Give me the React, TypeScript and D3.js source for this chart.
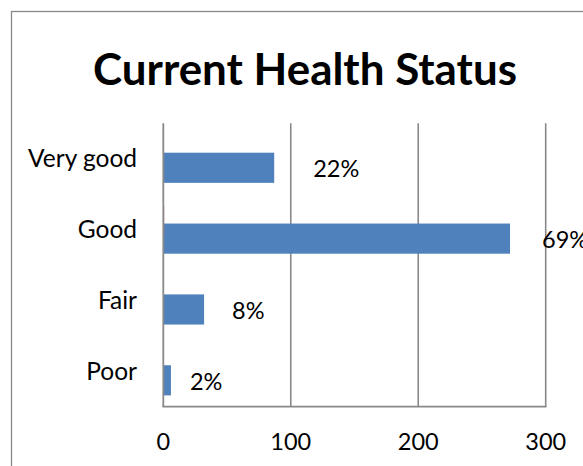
import React from "react";
import * as d3 from "d3";

// ---- data ----
const categories: string[] = ["Very good", "Good", "Fair", "Poor"];
const counts: number[] = [87, 272, 32, 6];
const percentLabels: string[] = ["22%", "69%", "8%", "2%"];
const secondSeries: number[] = [0, 0.8, 0, 0];
const xTicks: number[] = [0, 100, 200, 300];
const title = "Current Health Status";

const W = 583;
const H = 466;
const FONT = "Lato, 'Open Sans', sans-serif";

export default function App() {
  const plot = { left: 163.3, right: 545.7, top: 123.3, bottom: 406.7 };
  const x = d3.scaleLinear().domain([0, 300]).range([plot.left, plot.right]);
  const y = d3
    .scaleBand<string>()
    .domain(categories)
    .range([plot.top, plot.bottom])
    .paddingInner(0)
    .paddingOuter(0);

  // Excel-like clustered layout: gap width 75%, overlap 40%
  const unit = y.bandwidth() / 2.35;
  const barH = unit;
  const redOff = 0.375 * unit;
  const blueOff = 0.975 * unit;

  // per-label horizontal gap after the bar end (layout only)
  const labelGap = [39, 32, 28, 19];

  const gray = "#898989";

  return (
    <svg
      width={W}
      height={H}
      style={{ position: "absolute", left: 0, top: 0, display: "block", background: "#fff" }}
      fontFamily={FONT}
    >
      <rect x={0} y={0} width={W} height={H} fill="#fff" />
      <rect x={11.5} y={11.5} width={W + 50} height={H + 50} fill="none" stroke={gray} strokeWidth={1.3} />

      <text
        x={305}
        y={85}
        textAnchor="middle"
        fontSize={44}
        fontWeight={700}
        fill="#000"
        textLength={424}
        lengthAdjust="spacingAndGlyphs"
      >
        {title}
      </text>

      {/* gridlines */}
      {xTicks
        .filter((t) => t > 0)
        .map((t) => (
          <line
            key={"g" + t}
            x1={x(t)}
            x2={x(t)}
            y1={plot.top}
            y2={plot.bottom}
            stroke={gray}
            strokeWidth={1.6}
          />
        ))}

      {/* bars: blue series */}
      {categories.map((c, i) => (
        <rect
          key={"b" + c}
          x={x(0)}
          y={(y(c) as number) + blueOff}
          width={x(counts[i]) - x(0)}
          height={barH}
          fill="#4f81bd"
        />
      ))}
      {/* second (near-zero) series */}
      {categories.map((c, i) =>
        secondSeries[i] > 0 ? (
          <rect
            key={"r" + c}
            x={x(0)}
            y={(y(c) as number) + redOff}
            width={x(secondSeries[i]) - x(0)}
            height={barH}
            fill="#c0504d"
            opacity={0.5}
          />
        ) : null
      )}

      {/* axes */}
      <line x1={x(0)} x2={x(0)} y1={plot.top} y2={plot.bottom} stroke={gray} strokeWidth={1.8} />
      <line x1={x(0) - 0.9} x2={x(300) + 0.8} y1={plot.bottom} y2={plot.bottom} stroke={gray} strokeWidth={1.8} />

      {/* category labels */}
      {categories.map((c) => (
        <text
          key={"c" + c}
          x={137}
          y={(y(c) as number) + y.bandwidth() / 2 + 8.5}
          textAnchor="end"
          fontSize={24.5}
          fill="#000"
        >
          {c}
        </text>
      ))}

      {/* tick labels */}
      {xTicks.map((t) => (
        <text key={"t" + t} x={x(t)} y={450} textAnchor="middle" fontSize={23.5} fill="#000">
          {t}
        </text>
      ))}

      {/* data labels */}
      {categories.map((c, i) => (
        <text
          key={"l" + c}
          x={x(counts[i]) + labelGap[i]}
          y={(y(c) as number) + blueOff + barH / 2 + 9.5}
          fontSize={23.5}
          fill="#000"
        >
          {percentLabels[i]}
        </text>
      ))}
    </svg>
  );
}
